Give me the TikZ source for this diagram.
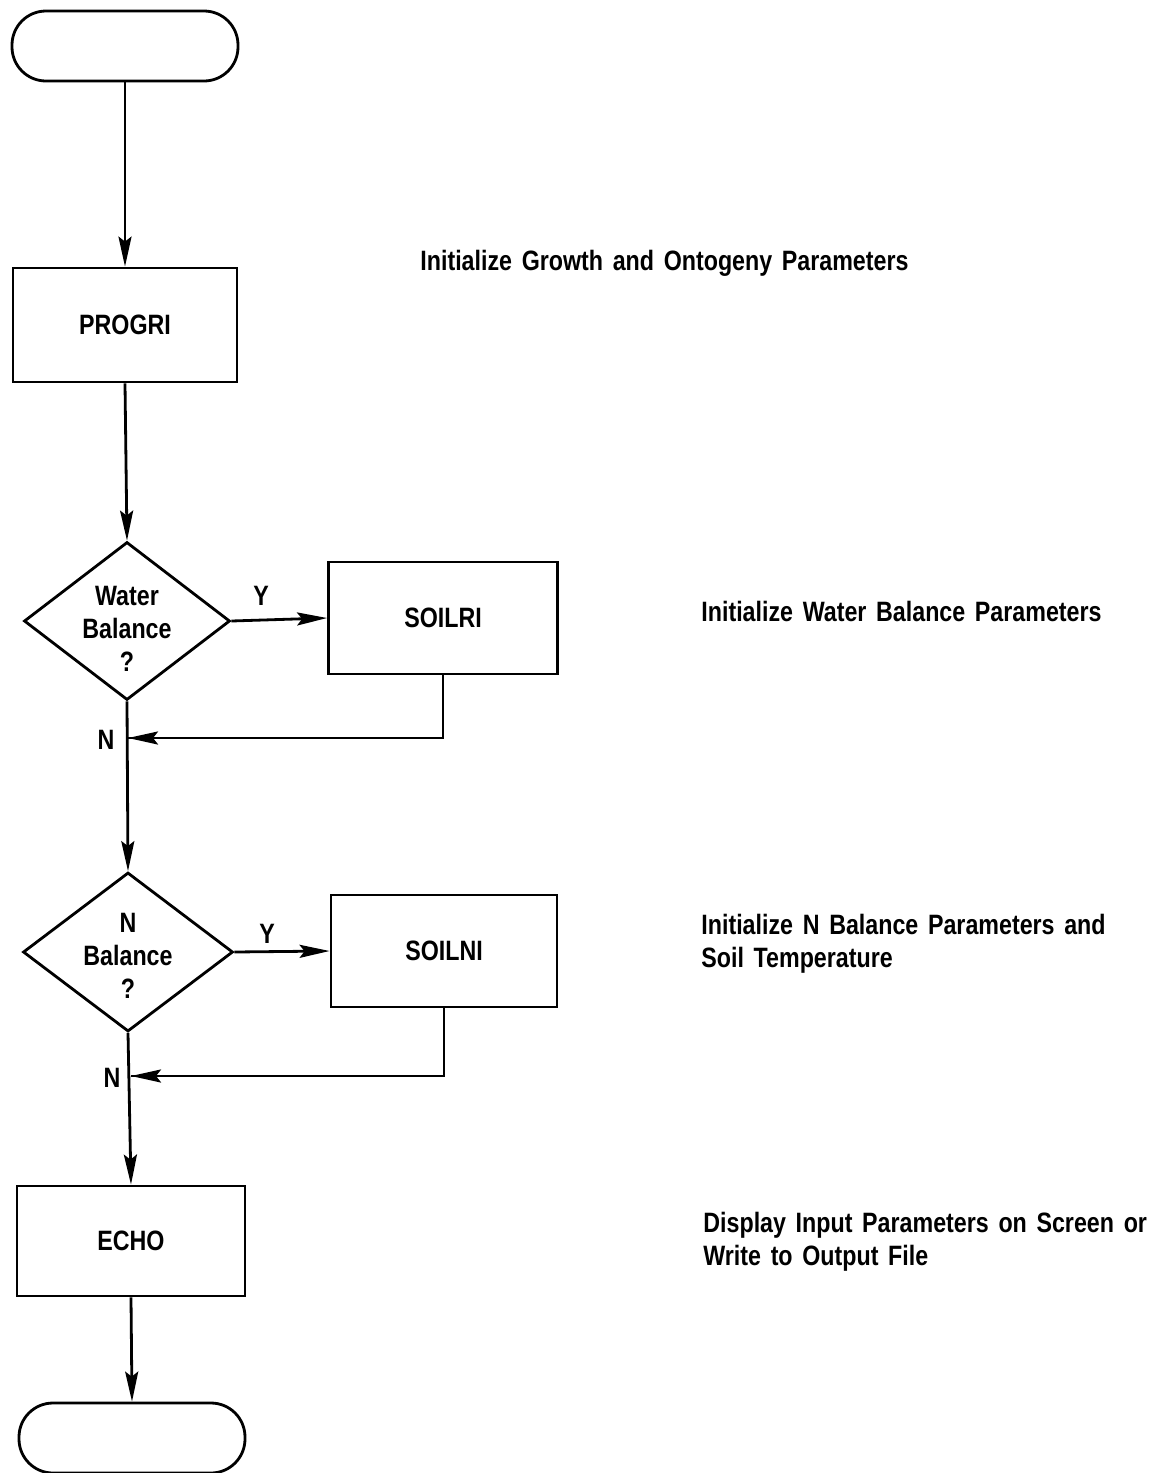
\documentclass[tikz,border=0pt]{standalone}
\usepackage{fontspec}
\setmainfont{Liberation Sans}[FakeStretch=0.83,WordSpace=1.5]
\usetikzlibrary{shapes.geometric,arrows.meta}

\begin{document}
\begin{tikzpicture}[x=1pt,y=-1pt,line width=2.8pt,
  every node/.style={font=\bfseries\fontsize{28}{33}\selectfont},
  proc/.style={draw,rectangle,inner sep=0pt},
  term/.style={draw,rectangle,rounded corners=34pt,minimum width=226pt,minimum height=70pt},
  decide/.style={draw,diamond,inner sep=0pt,aspect=1.3},
  note/.style={anchor=west,align=left,inner sep=0pt},
  inside/.style={align=center,inner sep=0pt},
  flow/.style={-{Stealth[length=30pt,width=13pt,inset=5pt]}},
  lbl/.style={inner sep=0pt}]
  \useasboundingbox (0,0) rectangle (1159,1473);

  % main column
  \node[term] (start) at (125,46) {};
  \node[proc,minimum width=224pt,minimum height=114pt] (progri) at (125,325) {PROGRI};
  \node[decide,minimum width=206pt,minimum height=158pt] (water) at (127,621) {};
  \node[inside] (watertxt) at (127,629) {Water\\Balance\\?};
  \node[proc,minimum width=229pt,minimum height=112pt] (soilri) at (443,618) {SOILRI};
  \node[decide,minimum width=210pt,minimum height=159pt] (nbal) at (128,952) {};
  \node[inside] (nbaltxt) at (128,956) {N\\Balance\\?};
  \node[proc,minimum width=226pt,minimum height=112pt] (soilni) at (444,951) {SOILNI};
  \node[proc,minimum width=228pt,minimum height=110pt] (echo) at (131,1241) {ECHO};
  \node[term] (stop) at (132,1438) {};

  % merge points of the yes branches
  \coordinate (j1) at (128,738);
  \coordinate (j2) at (131,1076);

  % connectors
  \draw[flow] (start.south) -- (progri.north);
  \draw[flow] (progri.south) -- (water.north);
  \draw[flow] (water.east) -- (soilri.west);
  \draw (soilri.south) |- (j1);
  \draw[flow] (soilri.south |- j1) -- (j1);
  \draw[flow] (water.south) -- (nbal.north);
  \draw[flow] (nbal.east) -- (soilni.west);
  \draw (soilni.south) |- (j2);
  \draw[flow] (soilni.south |- j2) -- (j2);
  \draw[flow] (nbal.south) -- (echo.north);
  \draw[flow] (echo.south) -- (stop.north);

  % branch labels
  \node[lbl] (y1) at (261,596) {Y};
  \node[lbl] (n1) at (106,740) {N};
  \node[lbl] (y2) at (267,934) {Y};
  \node[lbl] (n2) at (112,1078) {N};

  % descriptions
  \node[note] (d1) at (419,263) {Initialize Growth and Ontogeny Parameters};
  \node[note] (d2) at (700,611) {Initialize Water Balance Parameters};
  \node[note] (d3) at (700,944) {Initialize N Balance Parameters and\\Soil Temperature};
  \node[note] (d4) at (702,1242) {Display Input Parameters on Screen or\\Write to Output File};
\end{tikzpicture}
\end{document}
